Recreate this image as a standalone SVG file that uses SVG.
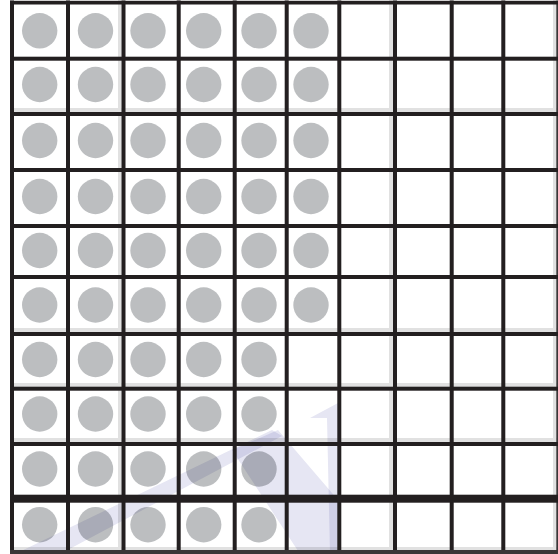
<svg xmlns="http://www.w3.org/2000/svg" width="558" height="554" viewBox="0 0 558 554">
  <style>
    .shade { fill: #e1e1e1; }
    .ln { fill: #231f20; }
    .dot { fill: #bcbec0; }
    .wm { fill: #e6e6f3; mix-blend-mode: multiply; }
  </style>
  <defs>
    <circle id="d" r="17.7" class="dot"/>
  </defs>
  <rect x="0" y="0" width="558" height="554" fill="#ffffff"/>

  <g id="shading">
    <rect class="shade" x="118" y="0" width="3.5" height="554"/>
    <rect class="shade" x="389" y="0" width="4" height="554"/>
    <rect class="shade" x="553" y="0" width="3.5" height="554"/>
    <rect class="shade" x="10" y="108" width="548" height="4"/>
    <rect class="shade" x="10" y="328" width="548" height="4"/>
    <rect class="shade" x="10" y="383" width="548" height="4"/>
    <rect class="shade" x="10" y="438" width="548" height="4"/>
    <rect class="shade" x="10" y="547" width="548" height="3"/>
  </g>

  <g id="dots">
    <g id="row1" transform="translate(0,30.8)">
      <use href="#d" x="39.7"/><use href="#d" x="95.5"/><use href="#d" x="148"/><use href="#d" x="203.7"/><use href="#d" x="259"/><use href="#d" x="311"/>
    </g>
    <g id="row2" transform="translate(0,84.5)">
      <use href="#d" x="39.7"/><use href="#d" x="95.5"/><use href="#d" x="148"/><use href="#d" x="203.7"/><use href="#d" x="259"/><use href="#d" x="311"/>
    </g>
    <g id="row3" transform="translate(0,140.5)">
      <use href="#d" x="39.7"/><use href="#d" x="95.5"/><use href="#d" x="148"/><use href="#d" x="203.7"/><use href="#d" x="259"/><use href="#d" x="311"/>
    </g>
    <g id="row4" transform="translate(0,196.5)">
      <use href="#d" x="39.7"/><use href="#d" x="95.5"/><use href="#d" x="148"/><use href="#d" x="203.7"/><use href="#d" x="259"/><use href="#d" x="311"/>
    </g>
    <g id="row5" transform="translate(0,250.5)">
      <use href="#d" x="39.7"/><use href="#d" x="95.5"/><use href="#d" x="148"/><use href="#d" x="203.7"/><use href="#d" x="259"/><use href="#d" x="311"/>
    </g>
    <g id="row6" transform="translate(0,305)">
      <use href="#d" x="39.7"/><use href="#d" x="95.5"/><use href="#d" x="148"/><use href="#d" x="203.7"/><use href="#d" x="259"/><use href="#d" x="311"/>
    </g>
    <g id="row7" transform="translate(0,359.5)">
      <use href="#d" x="39.7"/><use href="#d" x="95.5"/><use href="#d" x="148"/><use href="#d" x="203.7"/><use href="#d" x="259"/>
    </g>
    <g id="row8" transform="translate(0,414)">
      <use href="#d" x="39.7"/><use href="#d" x="95.5"/><use href="#d" x="148"/><use href="#d" x="203.7"/><use href="#d" x="259"/>
    </g>
    <g id="row9" transform="translate(0,469)">
      <use href="#d" x="39.7"/><use href="#d" x="95.5"/><use href="#d" x="148"/><use href="#d" x="203.7"/><use href="#d" x="259"/>
    </g>
    <g id="row10" transform="translate(0,524.7)">
      <use href="#d" x="39.7"/><use href="#d" x="95.5"/><use href="#d" x="148"/><use href="#d" x="203.7"/><use href="#d" x="259"/>
    </g>
  </g>

  <g id="watermark">
    <polygon class="wm" points="15,554 60,554 282,436 272,430"/>
    <polygon class="wm" points="232,450 278,430 338,500 340,554 300,554"/>
    <polygon class="wm" points="310,418 338,403 341,554 330,554 327,418"/>
  </g>

  <g id="grid">
    <rect class="ln" x="10" y="0.5" width="4" height="553.5"/>
    <rect class="ln" x="66" y="0.5" width="4" height="553.5"/>
    <rect class="ln" x="121.5" y="0.5" width="4" height="553.5"/>
    <rect class="ln" x="176.7" y="0.5" width="4" height="553.5"/>
    <rect class="ln" x="232.7" y="0.5" width="4" height="553.5"/>
    <rect class="ln" x="284.7" y="0.5" width="4" height="553.5"/>
    <rect class="ln" x="337.3" y="0.5" width="4" height="553.5"/>
    <rect class="ln" x="393" y="0.5" width="4" height="553.5"/>
    <rect class="ln" x="449.7" y="0.5" width="4" height="553.5"/>
    <rect class="ln" x="501.3" y="0.5" width="4" height="553.5"/>
    <rect x="556.3" y="0.5" width="1.7" height="553.5" fill="#3a3738"/>

    <rect class="ln" x="10" y="0.8" width="548" height="3.7"/>
    <rect class="ln" x="10" y="56.7" width="548" height="4"/>
    <rect class="ln" x="10" y="112" width="548" height="4"/>
    <rect class="ln" x="10" y="168" width="548" height="4"/>
    <rect class="ln" x="10" y="224" width="548" height="4"/>
    <rect class="ln" x="10" y="275" width="548" height="4"/>
    <rect class="ln" x="10" y="332" width="548" height="4"/>
    <rect class="ln" x="10" y="386.7" width="548" height="4"/>
    <rect class="ln" x="10" y="442" width="548" height="4"/>
    <rect class="ln" x="10" y="494.7" width="548" height="8"/>
    <rect x="10" y="550" width="548" height="4" fill="#3a3738"/>
  </g>
</svg>
